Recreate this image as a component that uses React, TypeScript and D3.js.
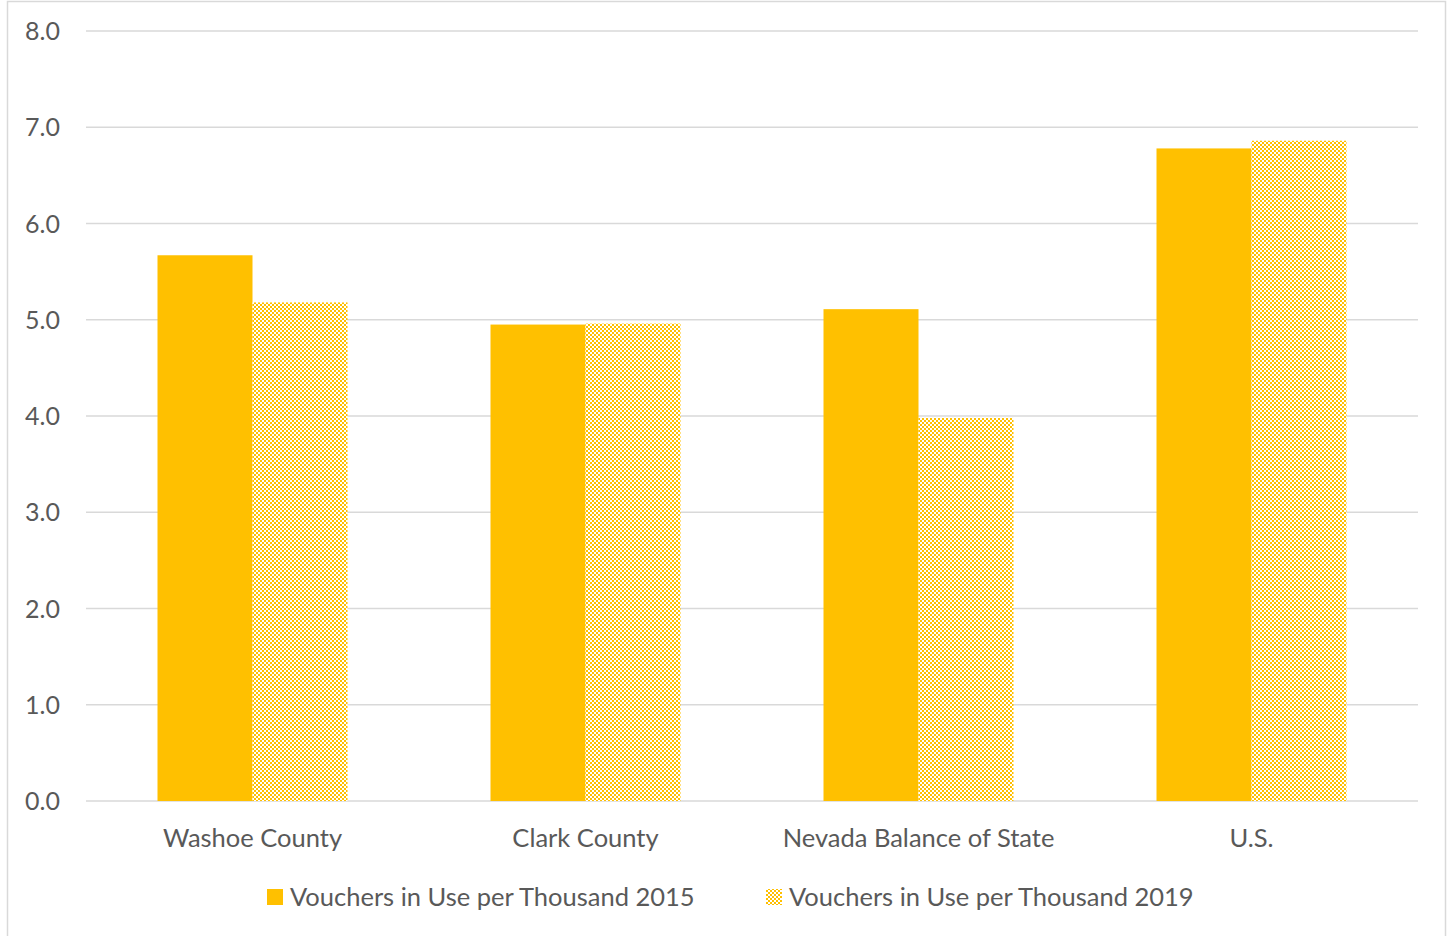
import React from "react";
import * as d3 from "d3";

const categories = ["Washoe County", "Clark County", "Nevada Balance of State", "U.S."];
const seriesNames = ["Vouchers in Use per Thousand 2015", "Vouchers in Use per Thousand 2019"];
const values2015 = [5.67, 4.95, 5.11, 6.78];
const values2019 = [5.18, 4.96, 3.98, 6.86];
const yTicks = [0, 1, 2, 3, 4, 5, 6, 7, 8];

const W = 1450;
const H = 936;
const plotLeft = 86;
const plotRight = 1418;
const plotTop = 31;
const plotBottom = 801;
const GOLD = "#FFC000";
const TEXT = "#595959";
const GRID = "#D9D9D9";
const FONT = "Lato, 'Open Sans', sans-serif";

export default function App() {
  const x = d3.scaleBand<string>().domain(categories).range([plotLeft, plotRight]).paddingInner(0).paddingOuter(0);
  const y = d3.scaleLinear().domain([0, 8]).range([plotBottom, plotTop]);
  const barW = 95;
  const series = [values2015, values2019];

  return (
    <svg width={W} height={H} style={{ position: "absolute", left: 0, top: 0 }} xmlns="http://www.w3.org/2000/svg">
      <defs>
        <pattern id="checker" width={4} height={4} patternUnits="userSpaceOnUse">
          <rect x={0} y={0} width={4} height={4} fill="#fff" />
          <rect x={0} y={0} width={2} height={2} fill={GOLD} />
          <rect x={2} y={2} width={2} height={2} fill={GOLD} />
        </pattern>
      </defs>
      <rect x={0} y={0} width={W} height={H} fill="#fff" />
      <rect x={7.5} y={1.5} width={1438} height={H + 10} fill="none" stroke={GRID} strokeWidth={1.5} />
      {yTicks.map((t) => (
        <g key={t}>
          <line x1={plotLeft} x2={plotRight} y1={y(t)} y2={y(t)} stroke={GRID} strokeWidth={1.5} />
          <text x={60} y={y(t)} dy="0.36em" textAnchor="end" fontFamily={FONT} fontSize={25} fill={TEXT}>
            {t.toFixed(1)}
          </text>
        </g>
      ))}
      {categories.map((c, i) => {
        const cx = (x(c) as number) + x.bandwidth() / 2;
        return (
          <g key={c}>
            {series.map((vals, s) => (
              <rect
                key={s}
                x={cx - barW + s * barW}
                y={y(vals[i])}
                width={barW}
                height={plotBottom - y(vals[i])}
                fill={s === 0 ? GOLD : "url(#checker)"}
              />
            ))}
            <text x={cx} y={838} dy="0.36em" textAnchor="middle" fontFamily={FONT} fontSize={25.5} fill={TEXT}>
              {c}
            </text>
          </g>
        );
      })}
      <g>
        <rect x={267} y={889} width={16} height={16} fill={GOLD} />
        <text x={290} y={897} dy="0.36em" fontFamily={FONT} fontSize={25.5} fill={TEXT}>
          {seriesNames[0]}
        </text>
        <rect x={766} y={889} width={16} height={16} fill="url(#checker)" />
        <text x={789} y={897} dy="0.36em" fontFamily={FONT} fontSize={25.5} fill={TEXT}>
          {seriesNames[1]}
        </text>
      </g>
    </svg>
  );
}
